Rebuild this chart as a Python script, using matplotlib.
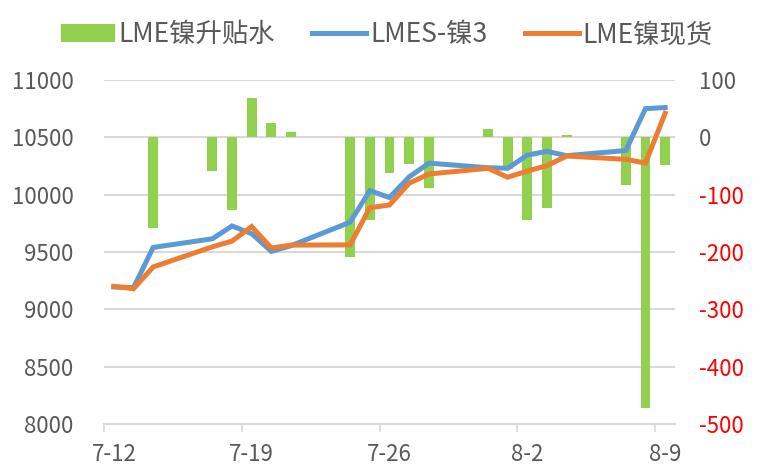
import numpy as np
import matplotlib
matplotlib.use("Agg")
import matplotlib.pyplot as plt
from matplotlib.patches import Patch
from matplotlib.lines import Line2D
import pandas as pd

plt.rcParams['font.family'] = ['Noto Sans CJK SC', 'DejaVu Sans']

dates = ['2017-07-12', '2017-07-13', '2017-07-14', '2017-07-17', '2017-07-18',
         '2017-07-19', '2017-07-20', '2017-07-21', '2017-07-24', '2017-07-25',
         '2017-07-26', '2017-07-27', '2017-07-28', '2017-07-31', '2017-08-01',
         '2017-08-02', '2017-08-03', '2017-08-04', '2017-08-07', '2017-08-08',
         '2017-08-09']
spread = [np.nan, np.nan, -158, -58, -127, 69, 25, 10, -208, -144, -62, -46, -88,
          14, -55, -145, -123, 4, -83, -472, -48]
lmes3 = [9195, 9190, 9540, 9615, 9727, 9660, 9505, 9555, 9760, 10035, 9975, 10155,
         10275, 10235, 10230, 10345, 10378, 10340, 10385, 10750, 10760]
spot = [9200, 9180, 9370, 9545, 9595, 9722, 9535, 9560, 9562, 9886, 9910, 10100,
        10180, 10230, 10152, 10206, 10253, 10337, 10308, 10276, 10710]
tick_dates = ['2017-07-12', '2017-07-19', '2017-07-26', '2017-08-02', '2017-08-09']
tick_labels = ['7-12', '7-19', '7-26', '8-2', '8-9']
left_ticks = [8000, 8500, 9000, 9500, 10000, 10500, 11000]
right_ticks = [-500, -400, -300, -200, -100, 0, 100]
names = ['LME镍升贴水', 'LMES-镍3', 'LME镍现货']

GREEN = '#92D050'
BLUE = '#5B9BD5'
ORANGE = '#ED7D31'
GRID = '#D9D9D9'
TXT = '#595959'

x = pd.to_datetime(dates)
xt = pd.to_datetime(tick_dates)
half = pd.Timedelta(hours=12)

fig = plt.figure(figsize=(7.63, 4.72), dpi=100)
ax = fig.add_axes([104/763, 1-424/472, (675-104)/763, (424-80)/472])
ax2 = ax.twinx()

# bars on right axis
ax2.bar(x, spread, width=0.5, color=GREEN, zorder=2)
ax2.set_ylim(-500, 100)
ax2.set_yticks(right_ticks)
ax2.set_yticklabels([str(v) for v in right_ticks])
for lab, v in zip(ax2.get_yticklabels(), right_ticks):
    lab.set_color('#FF0000' if v < 0 else TXT)
ax2.tick_params(axis='y', length=0, pad=17, labelsize=16)
ax2.grid(axis='y', color=GRID, linewidth=1.5, zorder=0)
ax2.set_axisbelow(True)

# lines on left axis (drawn on top)
ax.set_zorder(ax2.get_zorder() + 1)
ax.patch.set_visible(False)
ax.plot(x, lmes3, color=BLUE, linewidth=3.6, solid_joinstyle='miter', zorder=3)
ax.plot(x, spot, color=ORANGE, linewidth=3.6, solid_joinstyle='miter', zorder=4)
ax.set_ylim(8000, 11000)
ax.set_yticks(left_ticks)
ax.tick_params(axis='y', length=0, pad=22, labelsize=16, labelcolor=TXT)

ax.set_xlim(xt[0] - half, xt[-1] + half)
ax.set_xticks([d - half for d in xt])
ax.set_xticklabels([''] * len(xt))
ax.set_xticks(list(xt), minor=True)
ax.set_xticklabels(tick_labels, minor=True)
ax.tick_params(axis='x', which='major', length=6, width=1.2, color=GRID)
ax.tick_params(axis='x', which='minor', length=0, pad=14, labelsize=16, labelcolor=TXT)

for a in (ax, ax2):
    for s in ('top', 'left', 'right'):
        a.spines[s].set_visible(False)
    a.spines['bottom'].set_color(GRID)
    a.spines['bottom'].set_linewidth(1.5)
ax2.spines['bottom'].set_visible(False)

handles = [Patch(facecolor=GREEN, edgecolor='none'),
           Line2D([], [], color=BLUE, linewidth=3.6),
           Line2D([], [], color=ORANGE, linewidth=3.6)]
fig.legend(handles, names, loc='upper center', bbox_to_anchor=(0.507, 1.005), ncol=3,
           frameon=False, fontsize=19, handlelength=2.05, handleheight=0.65,
           handletextpad=0.15, columnspacing=1.4, labelcolor=TXT)

fig.savefig('out.png', dpi=100)
